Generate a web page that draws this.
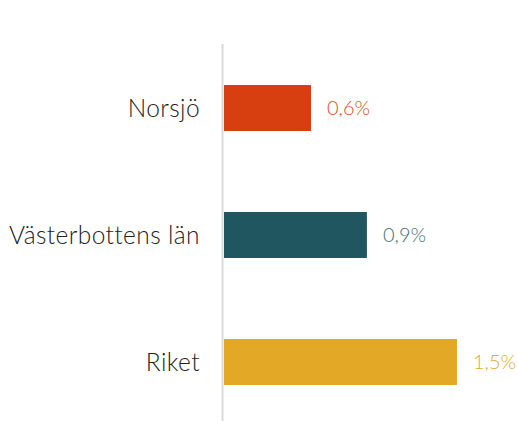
<!DOCTYPE html>
<html>
<head>
<meta charset="utf-8">
<script src="https://cdn.jsdelivr.net/npm/d3@7"></script>
<style>
  body { margin: 0; background: #fff; }
  svg { display: block; font-family: Lato, "Open Sans", sans-serif; }
</style>
</head>
<body>
<div id="chart"></div>
<script>
  const categories = ["Norsjö", "Västerbottens län", "Riket"];
  const values = [0.56, 0.92, 1.5];
  const barColors = ["#d83f10", "#20565f", "#e3a826"];
  const labelColors = ["#d84e24", "#466e74", "#e4a932"];

  const width = 518;
  const height = 421;
  const margin = { top: 44, right: 20, bottom: 0, left: 222 };

  const data = categories.map((c, i) => ({
    name: c,
    value: values[i],
    bar: barColors[i],
    label: labelColors[i],
  }));

  const svg = d3
    .select("#chart")
    .append("svg")
    .attr("width", width)
    .attr("height", height);

  const x = d3
    .scaleLinear()
    .domain([0, 1.5])
    .range([margin.left + 2, margin.left + 2 + 233]);

  const y = d3
    .scaleBand()
    .domain(categories)
    .range([margin.top, 426])
    .paddingInner(0.638)
    .paddingOuter(0.323);

  // bars
  svg
    .append("g")
    .selectAll("rect")
    .data(data)
    .enter()
    .append("rect")
    .attr("x", x(0))
    .attr("y", (d) => y(d.name))
    .attr("width", (d) => x(d.value) - x(0))
    .attr("height", y.bandwidth())
    .attr("fill", (d) => d.bar);

  // axis line
  svg
    .append("line")
    .attr("x1", margin.left + 0.5)
    .attr("x2", margin.left + 0.5)
    .attr("y1", margin.top)
    .attr("y2", height)
    .attr("stroke", "#dadada")
    .attr("stroke-width", 2);

  // category labels
  svg
    .append("g")
    .selectAll("text")
    .data(data)
    .enter()
    .append("text")
    .attr("x", 200)
    .attr("y", (d) => y(d.name) + y.bandwidth() / 2)
    .attr("dy", "0.35em")
    .attr("text-anchor", "end")
    .attr("fill", "#222")
    .style("font-size", "24.5px")
    .style("font-weight", 300)
    .style("letter-spacing", "0.4px")
    .text((d) => d.name);

  // value labels
  const fmt = (v) => v.toFixed(1).replace(".", ",") + "%";
  svg
    .append("g")
    .selectAll("text")
    .data(data)
    .enter()
    .append("text")
    .attr("x", (d) => x(d.value) + 16)
    .attr("y", (d) => y(d.name) + y.bandwidth() / 2)
    .attr("dy", "0.35em")
    .attr("fill", (d) => d.label)
    .style("font-size", "20px")
    .style("font-weight", 300)
    .text((d) => fmt(d.value));
</script>
</body>
</html>
